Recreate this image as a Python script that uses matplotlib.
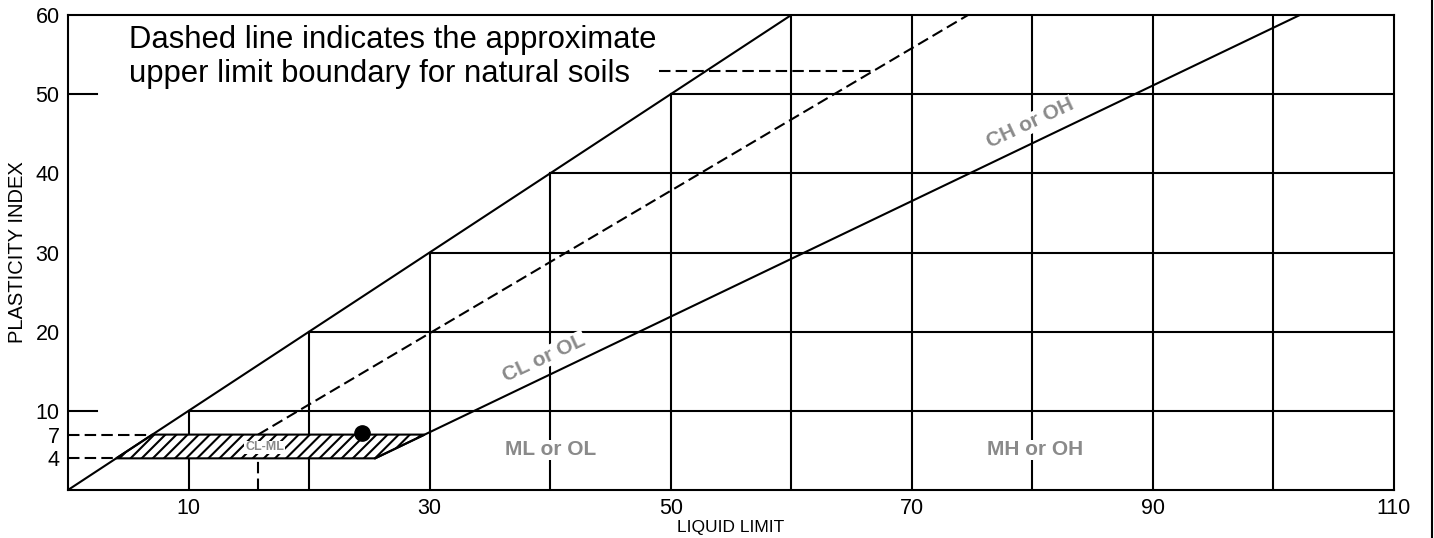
import numpy as np
import matplotlib
matplotlib.use('Agg')
import matplotlib.pyplot as plt
from matplotlib.patches import Polygon
from matplotlib.lines import Line2D

plt.rcParams['font.family'] = ['Liberation Sans', 'DejaVu Sans']
plt.rcParams['hatch.linewidth'] = 1.5

# chart data
x_ticks = [10, 30, 50, 70, 90, 110]
y_ticks = [4, 7, 10, 20, 30, 40, 50, 60]
grid_x = [10, 20, 30, 40, 50, 60, 70, 80, 90, 100]
grid_y = [10, 20, 30, 40, 50]
inner_ticks_y = [10, 50]
a_coef, a_off = 0.73, 20      # A-line  PI = 0.73 (LL - 20)
u_coef, u_off = 0.9, 8        # U-line  PI = 0.9 (LL - 8)
pi_low, pi_high = 4, 7        # CL-ML band
sample_ll, sample_pi = 24.4, 7.2
leader_ll = 49.0
labels = ['CL-ML', 'ML or OL', 'MH or OH', 'CL or OL', 'CH or OH']
label_x = [16.3, 40.0, 80.2, 39.5, 79.8]
label_y = [5.4, 5.1, 5.1, 16.7, 46.3]
label_rot = [0, 0, 0, 25, 25]
label_size = [9, 15, 15, 15, 15]

xmax, ymax = 110, 60
lw = 1.5
grey = '#8a8a8a'

def a_line(ll):
    return a_coef * (ll - a_off)

def a_line_inv(pi):
    return a_off + pi / a_coef

def u_line(ll):
    return u_coef * (ll - u_off)

def u_line_inv(pi):
    return u_off + pi / u_coef

fig = plt.figure(figsize=(14.34, 5.38), dpi=100)
ax = fig.add_axes([0.0474, 0.0892, 0.9247, 0.8829])

# staircase grid
for gx in grid_x:
    ax.plot([gx, gx], [0, min(gx, ymax)], color='k', lw=lw, zorder=1)
for gy in grid_y:
    ax.plot([gy, xmax], [gy, gy], color='k', lw=lw, zorder=1)
for ty in inner_ticks_y:
    ax.plot([0, 2.4], [ty, ty], color='k', lw=lw, zorder=1)

# hatched CL-ML zone
band = Polygon([[pi_low, pi_low], [pi_high, pi_high],
                [a_line_inv(pi_high), pi_high], [a_line_inv(pi_low), pi_low]],
               closed=True, facecolor='white', edgecolor='k', hatch='///', lw=lw, zorder=2)
ax.add_patch(band)

# PI = LL line
ax.plot([0, ymax], [0, ymax], color='k', lw=lw, zorder=3)
# A-line
ll_a = np.array([a_line_inv(pi_low), a_line_inv(ymax)])
ax.plot(ll_a, a_line(ll_a), color='k', lw=lw, zorder=3)

# U-line (dashed)
dash = (5.5, 2.5)
ll_u = np.array([u_line_inv(pi_high), u_line_inv(ymax)])
ax.plot(ll_u, u_line(ll_u), color='k', lw=lw, ls=(0, dash), zorder=3)
ax.plot([u_line_inv(pi_high), u_line_inv(pi_high)], [0, pi_low], color='k', lw=lw, ls=(0, dash), zorder=3)
ax.plot([0, pi_high], [pi_high, pi_high], color='k', lw=lw, ls=(0, dash), zorder=3)
ax.plot([0, pi_low], [pi_low, pi_low], color='k', lw=lw, ls=(0, dash), zorder=3)
leader_end = 66.75
ax.plot([leader_ll, leader_end], [u_line(leader_end), u_line(leader_end)],
        color='k', lw=lw, ls=(0, dash), zorder=3)

# sample point
ax.plot(sample_ll, sample_pi, 'o', color='k', ms=11, zorder=5)

# zone labels
for t, x, y, r, s in zip(labels, label_x, label_y, label_rot, label_size):
    ax.text(x, y, t, color=grey, fontsize=s, fontweight='bold', rotation=r,
            ha='center', va='center', rotation_mode='anchor', zorder=4,
            bbox=dict(facecolor='white', edgecolor='none', pad=0.5))

ax.text(5.1, 58.8, 'Dashed line indicates the approximate\nupper limit boundary for natural soils',
        fontsize=22.3, ha='left', va='top', linespacing=1.2, zorder=4)

ax.set_xlim(0, xmax)
ax.set_ylim(0, ymax)
ax.set_xticks(x_ticks)
ax.set_yticks(y_ticks)
ax.tick_params(length=0, labelsize=15.5, pad=6)
for sp in ax.spines.values():
    sp.set_linewidth(lw)

ax.set_xlabel('LIQUID LIMIT', fontsize=12.5, va='center')
ax.xaxis.set_label_coords(0.5, -0.078)
ax.set_ylabel('PLASTICITY INDEX', fontsize=14.5, va='center')
ax.yaxis.set_label_coords(-0.038, 0.5)

fig.add_artist(Line2D([0.9986, 0.9986], [0, 1], color='k', lw=lw, transform=fig.transFigure))

fig.savefig('out.png', dpi=100)
